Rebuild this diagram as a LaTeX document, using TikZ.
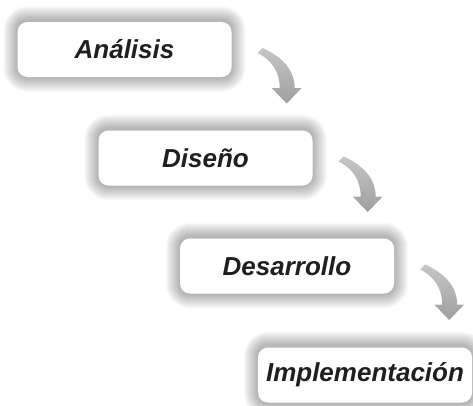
\documentclass[tikz,border=0pt]{standalone}
\usepackage{fontspec}
\setmainfont{Liberation Sans}
\usetikzlibrary{backgrounds}
\tikzset{
  stagebox/.style={fill=white, rounded corners=10pt, minimum width=214pt, minimum height=55pt,
    inner sep=0pt, text=black!88, font=\fontsize{26}{30}\selectfont\bfseries\itshape},
  flowarrow/.style={top color=gray!45, bottom color=gray!75, draw=none}
}
\newcommand{\glowbox}[1]{%
  \foreach \k in {1,...,14}{%
    \fill[black, opacity=0.024, rounded corners={10pt+\k pt}]
      ([shift={(-\k,-\k-1.5)}]#1.north west) rectangle ([shift={(\k,\k+0.5)}]#1.south east);
  }}
\newcommand{\bentarrow}[1]{%
  \begin{scope}[shift={(#1.east)}]
    \shade[flowarrow] (31,-1.5) .. controls (53,8.5) and (63,22.5) .. (63,38.5)
      -- (70,38.5) -- (55,54) -- (40,38.5) -- (48,38.5)
      .. controls (48,22.5) and (40,10.5) .. (26,3.5) -- cycle;
  \end{scope}}
\begin{document}
\begin{tikzpicture}[x=1pt,y=-1pt]
  \useasboundingbox (0,0) rectangle (473,405);
  \node[stagebox] (b1) at (124.5,49.5) {Análisis};
  \node[stagebox] (b2) at (205.5,158) {Diseño};
  \node[stagebox] (b3) at (287,266) {Desarrollo};
  \node[stagebox] (b4) at (365,375) {Implementación};
  \begin{scope}[on background layer]
    \glowbox{b1}\glowbox{b2}\glowbox{b3}\glowbox{b4}
  \end{scope}
  \bentarrow{b1}
  \bentarrow{b2}
  \bentarrow{b3}
\end{tikzpicture}
\end{document}
